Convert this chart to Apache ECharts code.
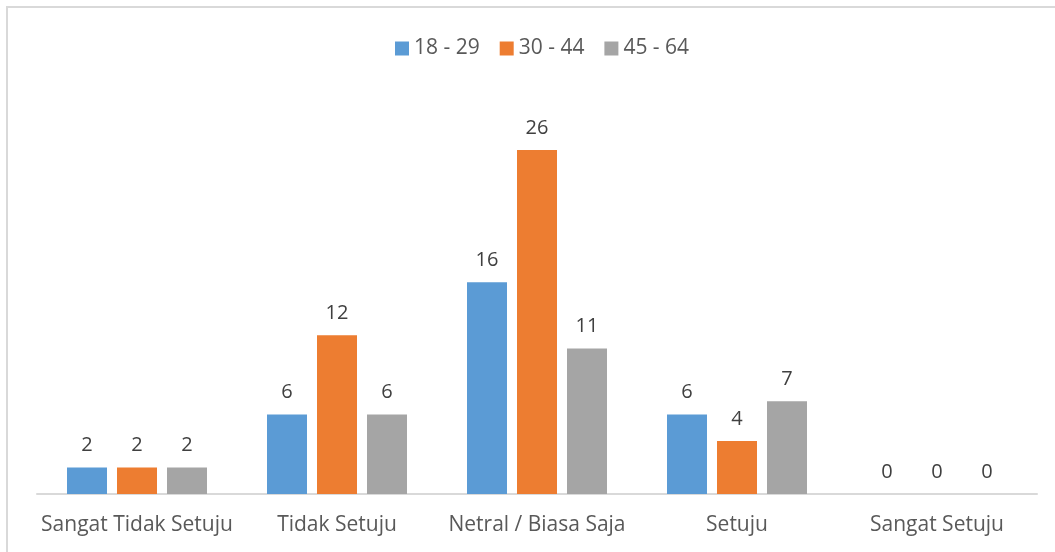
<!DOCTYPE html>
<html>
<head>
<meta charset="utf-8">
<script src="https://cdn.jsdelivr.net/npm/echarts@6/dist/echarts.min.js"></script>
<style>
html, body { margin: 0; padding: 0; background: #fff; }
#main { width: 1055px; height: 552px; }
</style>
</head>
<body>
<div id="main"></div>
<script>
// kategori dan nilai per kelompok umur
const categories = ['Sangat Tidak Setuju', 'Tidak Setuju', 'Netral / Biasa Saja', 'Setuju', 'Sangat Setuju']
const seriesNames = ['18 - 29', '30 - 44', '45 - 64']
const age18 = [2, 6, 16, 6, 0]
const age30 = [2, 12, 26, 4, 0]
const age45 = [2, 6, 11, 7, 0]
const colors = ['#5B9BD5', '#ED7D31', '#A5A5A5']

const font = 'Open Sans'
const chart = echarts.init(document.getElementById('main'))

function makeSeries (name, data, color) {
    return {
        name: name,
        type: 'bar',
        data: data,
        barWidth: 40,
        barGap: '25%',
        itemStyle: { color: color },
        label: {
            show: true,
            position: 'top',
            distance: 12,
            color: '#404040',
            fontSize: 20,
            fontFamily: font
        }
    }
}

chart.setOption({
    animation: false,
    color: colors,
    graphic: [{
        type: 'rect',
        shape: { x: 7, y: 7, width: 1100, height: 600 },
        style: { fill: 'none', stroke: '#d9d9d9', lineWidth: 2 },
        silent: true
    }],
    legend: {
        top: 33,
        left: 390,
        itemWidth: 14,
        itemHeight: 14,
        itemGap: 20,
        icon: 'rect',
        textStyle: { color: '#595959', fontSize: 21, fontFamily: font }
    },
    grid: { left: 37, right: 18, top: 97, bottom: 58 },
    xAxis: {
        type: 'category',
        data: categories,
        axisLine: { lineStyle: { color: '#d9d9d9', width: 2 } },
        axisTick: { show: false },
        axisLabel: { color: '#595959', fontSize: 21, fontFamily: font, margin: 21, interval: 0 }
    },
    yAxis: {
        type: 'value',
        min: 0,
        max: 30,
        show: false,
        splitLine: { show: false }
    },
    series: [
        makeSeries(seriesNames[0], age18, colors[0]),
        makeSeries(seriesNames[1], age30, colors[1]),
        makeSeries(seriesNames[2], age45, colors[2])
    ]
})
</script>
</body>
</html>
